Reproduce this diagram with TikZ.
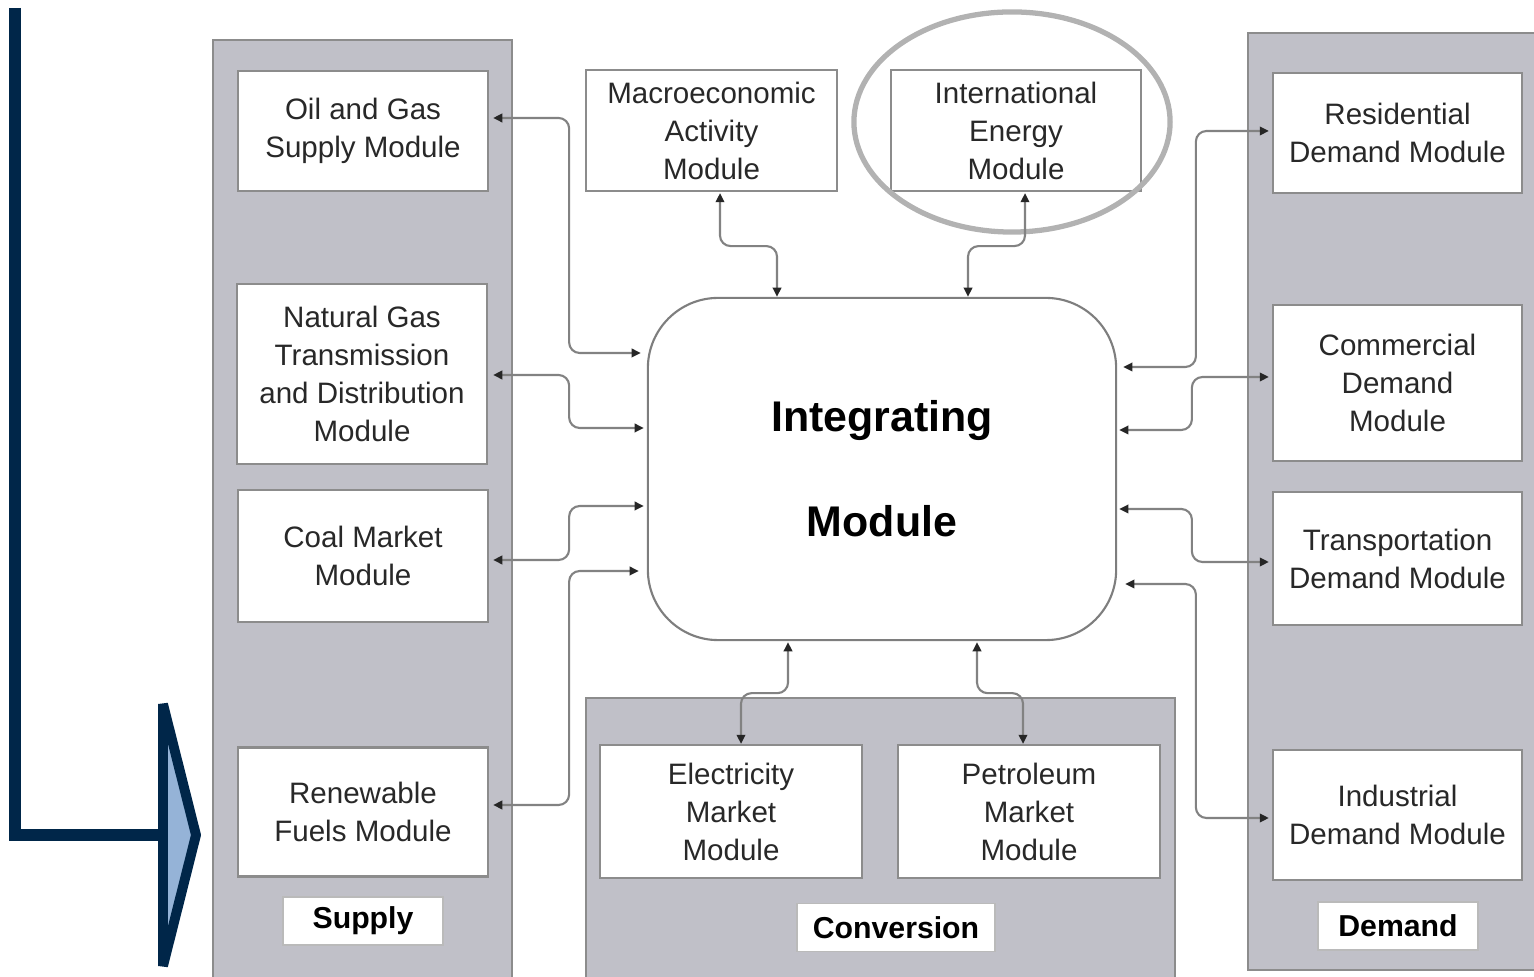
\documentclass[tikz,border=0pt]{standalone}
\usepackage{fontspec}
\setmainfont{Liberation Sans}
\usetikzlibrary{arrows.meta,calc,positioning}
\definecolor{panelgray}{RGB}{192,192,200}
\definecolor{edgegray}{RGB}{140,140,140}
\definecolor{linkgray}{RGB}{130,130,130}
\definecolor{textgray}{RGB}{40,40,40}
\definecolor{navy}{RGB}{0,38,73}
\definecolor{paleblue}{RGB}{149,179,215}
\tikzset{
  modbox/.style={draw=edgegray,line width=0.6pt,fill=white,align=center,text=textgray,
                 inner sep=0pt,font=\fontsize{8.4}{10.8}\selectfont},
  tagbox/.style={draw=edgegray!60,line width=0.4pt,fill=white,inner sep=0pt,text=black,
                 font=\fontsize{8.6}{10}\selectfont\bfseries,minimum height=0.48cm},
  panel/.style={fill=panelgray,draw=edgegray,line width=0.8pt},
  link/.style={draw=linkgray,line width=0.6pt,rounded corners=3pt,
               {Triangle[length=2.6pt,width=2.4pt,color=black!85]}-{Triangle[length=2.6pt,width=2.4pt,color=black!85]}}
}

\begin{document}
\begin{tikzpicture}[x=0.01cm,y=-0.01cm]
 \useasboundingbox (0,0) rectangle (1534,977);
 % grey columns
 \draw[panel] (213,40) rectangle (512,990);
 \draw[panel] (1248,33) rectangle (1545,970);
 \draw[panel] (586,698) rectangle (1175,990);

 % supply side
 \node[modbox,minimum width=2.5cm,minimum height=1.2cm] (oilgas) at (363,131) {Oil and Gas\\Supply Module};
 \node[modbox,minimum width=2.5cm,minimum height=1.8cm] (natgas) at (362,374) {Natural Gas\\Transmission\\and Distribution\\Module};
 \node[modbox,minimum width=2.5cm,minimum height=1.32cm] (coal) at (363,556) {Coal Market\\Module};
 \node[modbox,minimum width=2.5cm,minimum height=1.29cm] (renew) at (363,812) {Renewable\\Fuels Module};
 \node[tagbox,minimum width=1.6cm] (supply) at (363,921) {Supply};

 % top
 \node[modbox,minimum width=2.51cm,minimum height=1.21cm] (macro) at (711.5,130.5) {Macroeconomic\\Activity\\Module};
 \node[modbox,minimum width=2.5cm,minimum height=1.21cm] (intl) at (1016,130.5) {International\\Energy\\Module};
 \draw[black!30,line width=1.5pt] (1012,122) ellipse [x radius=1.58cm, y radius=1.1cm];

 % demand side
 \node[modbox,minimum width=2.49cm,minimum height=1.2cm] (resid) at (1397.5,133) {Residential\\Demand Module};
 \node[modbox,minimum width=2.49cm,minimum height=1.56cm] (comm) at (1397.5,383) {Commercial\\Demand\\Module};
 \node[modbox,minimum width=2.49cm,minimum height=1.33cm] (transp) at (1397.5,558.5) {Transportation\\Demand Module};
 \node[modbox,minimum width=2.49cm,minimum height=1.3cm] (indus) at (1397.5,815) {Industrial\\Demand Module};
 \node[tagbox,minimum width=1.6cm] (demand) at (1398,926) {Demand};

 % conversion
 \node[modbox,minimum width=2.62cm,minimum height=1.33cm] (elec) at (731,811.5) {Electricity\\Market\\Module};
 \node[modbox,minimum width=2.62cm,minimum height=1.33cm] (petro) at (1029,811.5) {Petroleum\\Market\\Module};
 \node[tagbox,minimum width=1.98cm] (conv) at (896,927.5) {Conversion};

 % hub
 \node[draw=edgegray!90!black,line width=0.6pt,fill=white,rounded corners=20pt,
       minimum width=4.68cm,minimum height=3.42cm,align=center,text=black,
       font=\fontsize{12.2}{29.8}\selectfont\bfseries] (integ) at (882,469) {Integrating\\Module};

 % links, left
 \draw[link] ($(oilgas.east)+(4,-13)$) -| ++(76,235) -- ($(integ.west)+(-6,-116)$);
 \draw[link] ($(natgas.east)+(5,1)$) -| ++(76,53) -- ($(integ.west)+(-3,-41)$);
 \draw[link] ($(coal.east)+(4,4)$) -| ++(76,-54) -- ($(integ.west)+(-3,37)$);
 \draw[link] ($(renew.east)+(4,-7)$) -| ++(76,-234) -- ($(integ.west)+(-8,102)$);
 % links, right
 \draw[link] ($(resid.west)+(-3,-2)$) -| ++(-73,236) -- ($(integ.east)+(6,-102)$);
 \draw[link] ($(comm.west)+(-3,-6)$) -| ++(-77,53) -- ($(integ.east)+(2,-39)$);
 \draw[link] ($(transp.west)+(-3,3.5)$) -| ++(-77,-53) -- ($(integ.east)+(2,40)$);
 \draw[link] ($(indus.west)+(-3,3)$) -| ++(-73,-234) -- ($(integ.east)+(8,115)$);
 % links, top and bottom
 \draw[link] ($(macro.south)+(8.5,1)$) |- ++(57,53) -- ($(integ.north)+(-105,0)$);
 \draw[link] ($(intl.south)+(9,1)$) |- ++(-57,53) -- ($(integ.north)+(86,0)$);
 \draw[link] ($(integ.south)+(-94,1)$) |- ++(-47,51) -- ($(elec.north)+(10,0)$);
 \draw[link] ($(integ.south)+(95,1)$) |- ++(46,51) -- ($(petro.north)+(-6,0)$);

 % pointer on the left
 \draw[navy,line width=3.4pt] (15,8) |- (163,835);
 \draw[navy,line width=2.8pt,fill=paleblue,line join=bevel] (163,704) -- (196,835) -- (163,966) -- cycle;
\end{tikzpicture}
\end{document}
